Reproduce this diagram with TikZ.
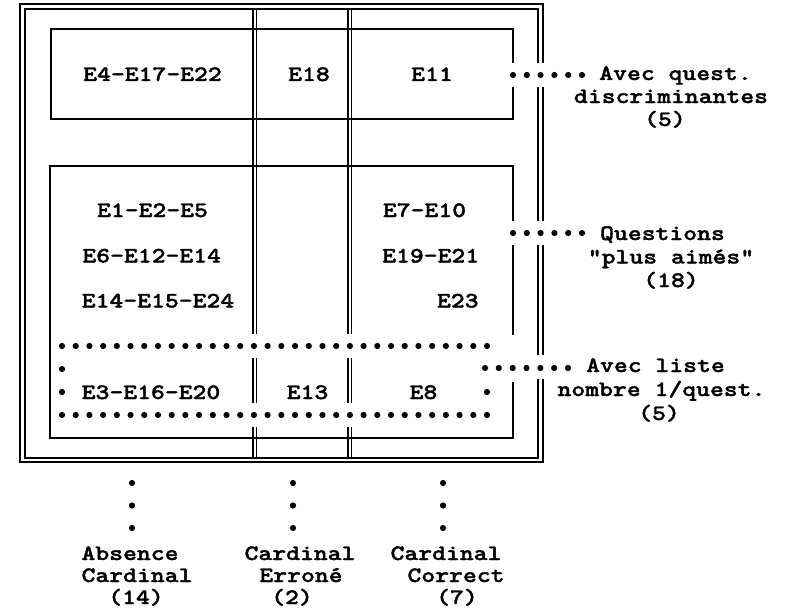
\documentclass[tikz,border=0pt]{standalone}
\usepackage{fontspec}
\usetikzlibrary{calc}
\newfontfamily\cour[FakeBold=1.5,FakeStretch=1.2,Ligatures=ResetAll]{lmmonolt10-bold.otf}
\begin{document}
\begin{tikzpicture}[x=1pt,y=-1pt,
  t/.style={font=\cour\fontsize{22}{24}\selectfont, inner sep=0pt, anchor=base},
  frameout/.style={line width=2pt},
  framein/.style={line width=1.1pt},
  boxline/.style={line width=1.3pt},
  divline/.style={line width=1.4pt},
  gap/.style={fill=white, draw=none},
  dotfill/.style={fill=black}]
\def\dotr{3.1pt}
\useasboundingbox (0,0) rectangle (785,610);
% frame
\draw[frameout] (20,4) rectangle (543,462);
\draw[framein] (25,9) rectangle (538,458);
% boxes
\draw[boxline] (51,29) rectangle (513,119);
\draw[boxline] (50,166) rectangle (513,438);
% column dividers
\draw[divline] (253,9) -- (253,458);
\draw[divline] (256.5,9) -- (256.5,458);
\draw[divline] (348,9) -- (348,458);
\draw[divline] (351.5,9) -- (351.5,458);
% gaps where dots cross
\fill[gap] (505,63) rectangle (550,87);
\fill[gap] (505,221) rectangle (550,245);
\fill[gap] (505,355) rectangle (550,379);
\fill[gap] (508,335) rectangle (518,382);
\fill[gap] (245,334) rectangle (262,358);
\fill[gap] (340,334) rectangle (357,358);
\fill[gap] (245,403) rectangle (262,427);
\fill[gap] (340,403) rectangle (357,427);
% dotted rectangle corners
\coordinate (r1) at (62,346);
\coordinate (r2) at (487,346);
\coordinate (r3) at (62,415);
\coordinate (r4) at (487,415);
\foreach \i in {0,...,31} {
  \fill[dotfill] ($(r1)!\i/31!(r2)$) circle[radius=\dotr];
  \fill[dotfill] ($(r3)!\i/31!(r4)$) circle[radius=\dotr];
}
\foreach \i in {1,2} {
  \fill[dotfill] ($(r1)!\i/3!(r3)$) circle[radius=\dotr];
}
\fill[dotfill] ($(r2)!2/3!(r4)$) circle[radius=\dotr];
% connectors to right labels
\coordinate (q1a) at (513,75);
\coordinate (q1b) at (582,75);
\coordinate (q2a) at (513,233);
\coordinate (q2b) at (582,233);
\coordinate (q3a) at (485,368);
\coordinate (q3b) at (568,368);
\foreach \i in {0,...,5} {
  \fill[dotfill] ($(q1a)!\i/5!(q1b)$) circle[radius=\dotr];
  \fill[dotfill] ($(q2a)!\i/5!(q2b)$) circle[radius=\dotr];
}
\foreach \i in {0,...,6} {
  \fill[dotfill] ($(q3a)!\i/6!(q3b)$) circle[radius=\dotr];
}
% bottom column dots
\coordinate (c1a) at (132,483); \coordinate (c1b) at (132,528);
\coordinate (c2a) at (293,483); \coordinate (c2b) at (293,528);
\coordinate (c3a) at (443,483); \coordinate (c3b) at (443,528);
\foreach \i in {0,1,2} {
  \fill[dotfill] ($(c1a)!\i/2!(c1b)$) circle[radius=\dotr];
  \fill[dotfill] ($(c2a)!\i/2!(c2b)$) circle[radius=\dotr];
  \fill[dotfill] ($(c3a)!\i/2!(c3b)$) circle[radius=\dotr];
}
% texts in boxes
\node[t] (e4) at (152.5,81) {E4-E17-E22};
\node[t] (e18) at (309,81) {E18};
\node[t] (e11) at (432,81) {E11};
\node[t] (e1) at (152.5,217) {E1-E2-E5};
\node[t] (e6) at (151.7,262.5) {E6-E12-E14};
\node[t] (e14) at (158,307.5) {E14-E15-E24};
\node[t] (e7) at (424.5,217) {E7-E10};
\node[t] (e19) at (430.7,262.5) {E19-E21};
\node[t] (e23) at (457.8,307.5) {E23};
\node[t] (e3) at (151,399) {E3-E16-E20};
\node[t] (e13) at (307.5,399) {E13};
\node[t] (e8) at (423.5,399) {E8};
% right labels
\node[t] (l1a) at (675.5,80) {Avec quest.};
\node[t] (l1b) at (671,103) {discriminantes};
\node[t] (l1c) at (665,126) {(5)};
\node[t] (l2a) at (662.5,240) {Questions};
\node[t] (l2b) at (671,263.5) {"plus aimés"};
\node[t] (l2c) at (671,287) {(18)};
\node[t] (l3a) at (655.5,372) {Avec liste};
\node[t] (l3b) at (661.5,396) {nombre 1/quest.};
\node[t] (l3c) at (659,420) {(5)};
% bottom labels
\node[t] (b1a) at (130,560) {Absence};
\node[t] (b1b) at (137,582) {Cardinal};
\node[t] (b1c) at (136,604) {(14)};
\node[t] (b2a) at (300,560) {Cardinal};
\node[t] (b2b) at (301,582) {Erroné};
\node[t] (b2c) at (292,604) {(2)};
\node[t] (b3a) at (446,560) {Cardinal};
\node[t] (b3b) at (456,582) {Correct};
\node[t] (b3c) at (457,604) {(7)};
\end{tikzpicture}
\end{document}
